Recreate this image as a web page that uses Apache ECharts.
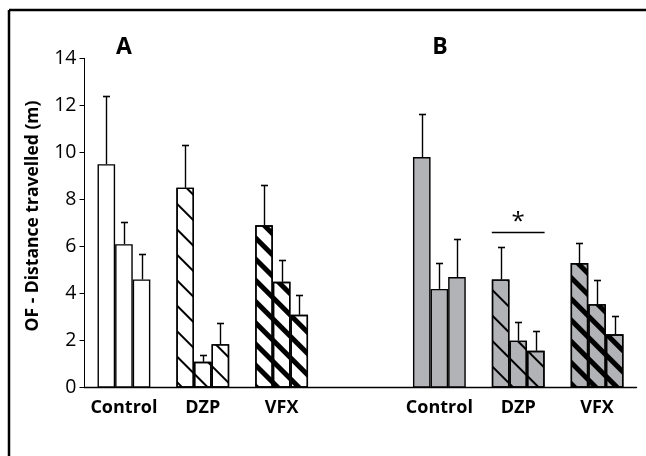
<!DOCTYPE html>
<html>
<head>
<meta charset="utf-8">
<script src="https://cdn.jsdelivr.net/npm/echarts@6/dist/echarts.min.js"></script>
<style>
html,body{margin:0;padding:0;background:#fff;}
#chart{width:646px;height:456px;}
</style>
</head>
<body>
<div id="chart"></div>
<script>
// ---- data ----
const categories = ['Control', 'DZP', 'VFX', '', 'Control', 'DZP', 'VFX'];
const panelLabels = ['A', 'B'];
const yTicks = [0, 2, 4, 6, 8, 10, 12, 14];
const mean1 = [9.5, 8.5, 6.9, null, 9.8, 4.6, 5.3];
const mean2 = [6.1, 1.1, 4.5, null, 4.2, 2.0, 3.55];
const mean3 = [4.6, 1.85, 3.1, null, 4.7, 1.57, 2.27];
const sem1 = [2.9, 1.8, 1.72, null, 1.83, 1.4, 0.83];
const sem2 = [0.95, 0.28, 0.91, null, 1.12, 0.81, 1.04];
const sem3 = [1.09, 0.92, 0.83, null, 1.61, 0.82, 0.76];
const sigCategory = 5;
const sigLevel = 6.6;
const sigText = '*';

// ---- style ----
const BAR_W = 17.6;
const GRAY = '#b2b3b6';
const FONT = '"Open Sans", "Noto Sans", sans-serif';
const panelOf = i => (i < 3 ? 0 : 1);
const decalThin = { symbol: 'rect', symbolSize: 1, color: '#000', dashArrayX: [1, 0], dashArrayY: [1.4, 15.6], rotation: Math.PI / 4 };
const decalThick = { symbol: 'rect', symbolSize: 1, color: '#000', dashArrayX: [1, 0], dashArrayY: [4.8, 10], rotation: Math.PI / 4 };

function barData(means) {
  return means.map((v, i) => {
    if (v == null) return '-';
    const name = categories[i];
    const item = {
      value: v,
      itemStyle: {
        color: panelOf(i) === 0 ? '#ffffff' : GRAY,
        borderColor: '#000',
        borderWidth: 1.4
      }
    };
    if (name === 'DZP') item.itemStyle.decal = decalThin;
    if (name === 'VFX') item.itemStyle.decal = decalThick;
    return item;
  });
}

function errData(means, sems) {
  const out = [];
  means.forEach((m, i) => { if (m != null) out.push([i, m, sems[i]]); });
  return out;
}

function errSeries(means, sems, k) {
  return {
    type: 'custom',
    z: 5,
    data: errData(means, sems),
    renderItem: function (params, api) {
      const x = api.value(0), m = api.value(1), s = api.value(2);
      const base = api.coord([x, m]);
      const top = api.coord([x, m + s]);
      const cx = Math.round(base[0] + (k - 1) * BAR_W) + 0.5;
      const ty = Math.round(top[1]) + 0.5;
      return {
        type: 'group',
        children: [
          { type: 'line', shape: { x1: cx, y1: base[1], x2: cx, y2: ty }, style: { stroke: '#000', lineWidth: 1.4 } },
          { type: 'line', shape: { x1: cx - 3.5, y1: ty, x2: cx + 3.5, y2: ty }, style: { stroke: '#000', lineWidth: 1.6 } }
        ]
      };
    }
  };
}

const chart = echarts.init(document.getElementById('chart'), null, { renderer: 'canvas' });
const option = {
  animation: false,
  backgroundColor: '#fff',
  grid: { left: 84.5, right: 9.5, top: 58.3, bottom: 68.3 },
  xAxis: {
    type: 'category',
    data: categories,
    axisTick: { show: false },
    axisLine: { lineStyle: { color: '#000', width: 1.4 } },
    axisLabel: { color: '#000', fontFamily: FONT, fontWeight: 'bold', fontSize: 18, margin: 11, interval: 0 }
  },
  yAxis: {
    type: 'value',
    min: yTicks[0],
    max: yTicks[yTicks.length - 1],
    interval: yTicks[1] - yTicks[0],
    name: 'OF - Distance travelled (m)',
    nameLocation: 'middle',
    nameGap: 42,
    nameTextStyle: { color: '#000', fontFamily: FONT, fontWeight: 'bold', fontSize: 17.5, padding: [0, 0, 0, 14] },
    splitLine: { show: false },
    axisLine: { show: true, lineStyle: { color: '#000', width: 1 } },
    axisTick: { show: true, length: 5, lineStyle: { color: '#000' } },
    axisLabel: { color: '#000', fontFamily: FONT, fontSize: 19.5, margin: 8 }
  },
  graphic: [
    { type: 'line', shape: { x1: 9, y1: 10, x2: 646, y2: 10 }, style: { stroke: '#000', lineWidth: 2.5 } },
    { type: 'line', shape: { x1: 9, y1: 10, x2: 9, y2: 456 }, style: { stroke: '#000', lineWidth: 2.5 } },
    { type: 'text', x: 124, y: 47, style: { text: panelLabels[0], fontFamily: FONT, fontWeight: 'bold', fontSize: 23, fill: '#000', align: 'center', verticalAlign: 'middle' } },
    { type: 'text', x: 440, y: 47, style: { text: panelLabels[1], fontFamily: FONT, fontWeight: 'bold', fontSize: 23, fill: '#000', align: 'center', verticalAlign: 'middle' } }
  ],
  series: [
    { type: 'bar', data: barData(mean1), barWidth: BAR_W, barGap: '0%' },
    { type: 'bar', data: barData(mean2), barWidth: BAR_W, barGap: '0%' },
    { type: 'bar', data: barData(mean3), barWidth: BAR_W, barGap: '0%' },
    errSeries(mean1, sem1, 0),
    errSeries(mean2, sem2, 1),
    errSeries(mean3, sem3, 2),
    {
      type: 'custom',
      z: 6,
      data: [[sigCategory, sigLevel]],
      renderItem: function (params, api) {
        const p = api.coord([api.value(0), api.value(1)]);
        const y = Math.round(p[1]) + 0.5;
        return {
          type: 'group',
          children: [
            { type: 'line', shape: { x1: p[0] - 1.5 * BAR_W, y1: y, x2: p[0] + 1.5 * BAR_W, y2: y }, style: { stroke: '#000', lineWidth: 1.4 } },
            { type: 'text', x: p[0], y: y + 2, style: { text: sigText, fontFamily: FONT, fontSize: 24, fill: '#000', align: 'center', verticalAlign: 'bottom' } }
          ]
        };
      }
    }
  ]
};
chart.setOption(option);
</script>
</body>
</html>
